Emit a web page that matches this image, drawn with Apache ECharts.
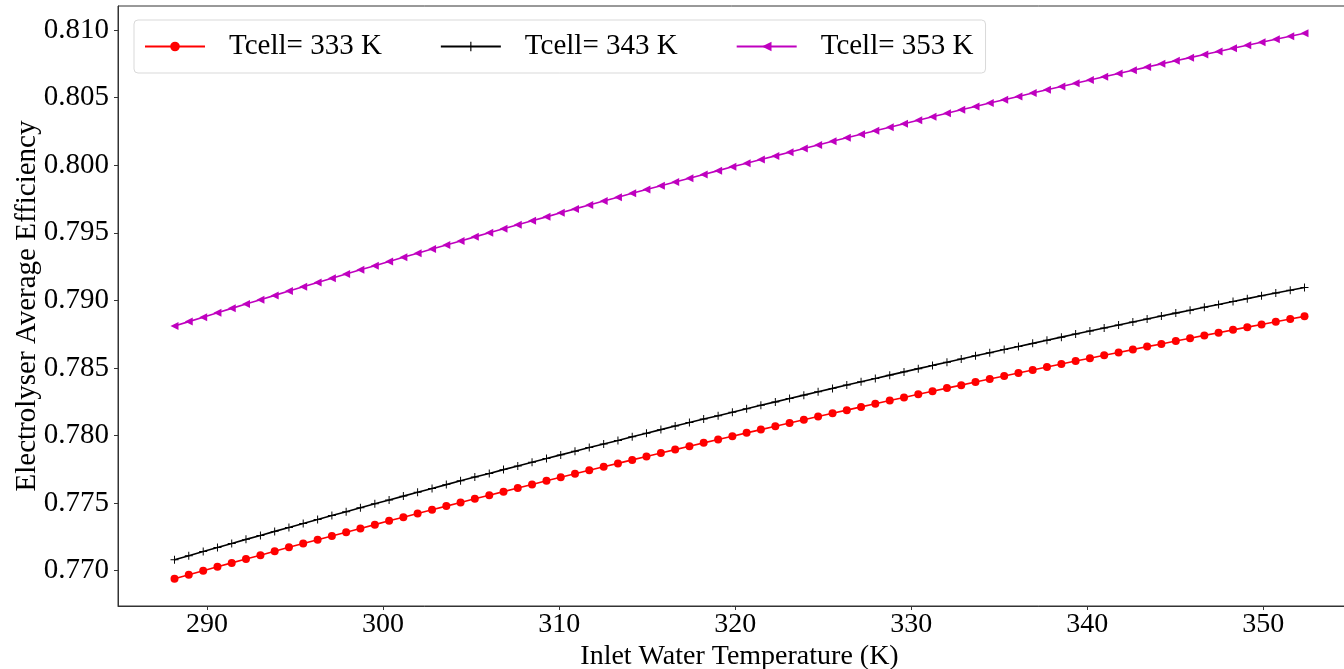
<!DOCTYPE html>
<html>
<head>
<meta charset="utf-8">
<script src="https://cdn.jsdelivr.net/npm/echarts@6/dist/echarts.min.js"></script>
<style>html,body{margin:0;padding:0;background:#fff;}#c{width:1344px;height:669px;}</style>
</head>
<body>
<div id="c"></div>
<script>
const inletTemp = [288.15,288.96,289.78,290.59,291.40,292.21,293.03,293.84,294.65,295.46,296.28,297.09,297.90,298.71,299.53,300.34,301.15,301.96,302.78,303.59,304.40,305.21,306.03,306.84,307.65,308.46,309.28,310.09,310.90,311.71,312.53,313.34,314.15,314.96,315.78,316.59,317.40,318.21,319.03,319.84,320.65,321.46,322.28,323.09,323.90,324.71,325.53,326.34,327.15,327.96,328.78,329.59,330.40,331.21,332.03,332.84,333.65,334.46,335.28,336.09,336.90,337.71,338.53,339.34,340.15,340.96,341.78,342.59,343.40,344.21,345.03,345.84,346.65,347.46,348.28,349.09,349.90,350.71,351.53,352.34];
const eff333 = [0.76941,0.76970,0.77000,0.77029,0.77058,0.77087,0.77115,0.77144,0.77173,0.77201,0.77229,0.77257,0.77285,0.77313,0.77341,0.77369,0.77396,0.77424,0.77451,0.77478,0.77505,0.77532,0.77559,0.77585,0.77612,0.77638,0.77665,0.77691,0.77717,0.77743,0.77769,0.77794,0.77820,0.77845,0.77871,0.77896,0.77921,0.77946,0.77971,0.77995,0.78020,0.78044,0.78069,0.78093,0.78117,0.78141,0.78165,0.78188,0.78212,0.78235,0.78259,0.78282,0.78305,0.78328,0.78351,0.78373,0.78396,0.78419,0.78441,0.78463,0.78485,0.78507,0.78529,0.78551,0.78572,0.78594,0.78615,0.78636,0.78658,0.78678,0.78699,0.78720,0.78741,0.78761,0.78782,0.78802,0.78822,0.78842,0.78862,0.78882];
const eff343 = [0.77081,0.77111,0.77142,0.77172,0.77202,0.77232,0.77261,0.77291,0.77320,0.77350,0.77379,0.77408,0.77437,0.77466,0.77495,0.77523,0.77552,0.77580,0.77609,0.77637,0.77665,0.77693,0.77720,0.77748,0.77775,0.77803,0.77830,0.77857,0.77884,0.77911,0.77938,0.77964,0.77991,0.78017,0.78044,0.78070,0.78096,0.78122,0.78147,0.78173,0.78198,0.78224,0.78249,0.78274,0.78299,0.78324,0.78349,0.78374,0.78398,0.78422,0.78447,0.78471,0.78495,0.78519,0.78542,0.78566,0.78590,0.78613,0.78636,0.78659,0.78682,0.78705,0.78728,0.78751,0.78773,0.78796,0.78818,0.78840,0.78862,0.78884,0.78906,0.78927,0.78949,0.78970,0.78992,0.79013,0.79034,0.79055,0.79075,0.79096];
const eff353 = [0.78810,0.78843,0.78876,0.78908,0.78941,0.78973,0.79005,0.79037,0.79069,0.79101,0.79132,0.79164,0.79195,0.79226,0.79257,0.79288,0.79319,0.79349,0.79380,0.79410,0.79440,0.79470,0.79500,0.79530,0.79560,0.79589,0.79618,0.79648,0.79677,0.79706,0.79735,0.79763,0.79792,0.79820,0.79848,0.79876,0.79904,0.79932,0.79960,0.79988,0.80015,0.80042,0.80069,0.80096,0.80123,0.80150,0.80177,0.80203,0.80229,0.80255,0.80281,0.80307,0.80333,0.80359,0.80384,0.80410,0.80435,0.80460,0.80485,0.80509,0.80534,0.80559,0.80583,0.80607,0.80631,0.80655,0.80679,0.80703,0.80726,0.80750,0.80773,0.80796,0.80819,0.80842,0.80865,0.80887,0.80910,0.80932,0.80954,0.80976];
const xTicks = [290,300,310,320,330,340,350];
const yTicks = [0.770,0.775,0.780,0.785,0.790,0.795,0.800,0.805,0.810];
const seriesNames = ['Tcell= 333 K','Tcell= 343 K','Tcell= 353 K'];

const FONT = 'Liberation Serif';
const pairs = arr => inletTemp.map((x, i) => [x, arr[i]]);
const plusPath = 'path://M4.4,0 H5.6 V4.4 H10 V5.6 H5.6 V10 H4.4 V5.6 H0 V4.4 H4.4 Z';

const chart = echarts.init(document.getElementById('c'), null, {renderer: 'canvas'});
chart.setOption({
  animation: false,
  backgroundColor: '#fff',
  grid: {left: 118, top: 6, width: 1243, height: 600, outerBoundsMode: 'none', containLabel: false,
         show: true, borderColor: '#333', borderWidth: 1, backgroundColor: 'transparent'},
  legend: {
    left: 134, top: 20,
    padding: [12, 12, 12, 10],
    itemGap: 58, itemWidth: 60, itemHeight: 12,
    borderColor: '#d9d9d9', borderWidth: 1, borderRadius: 4,
    backgroundColor: 'rgba(255,255,255,0.8)',
    textStyle: {fontFamily: FONT, fontSize: 29, color: '#000', padding: [0, 0, 0, 19]},
    data: seriesNames
  },
  xAxis: {
    type: 'value', min: 284.94, max: 355.55,
    name: 'Inlet Water Temperature (K)', nameLocation: 'middle', nameGap: 37, nameMoveOverlap: false,
    nameTextStyle: {fontFamily: FONT, fontSize: 28, color: '#000'},
    axisLine: {show: true, lineStyle: {color: '#333', width: 1}},
    axisTick: {show: true, inside: false, length: 4, lineStyle: {color: '#333'}, customValues: xTicks},
    axisLabel: {fontFamily: FONT, fontSize: 28, color: '#000', margin: 5, customValues: xTicks, formatter: v => String(v)},
    splitLine: {show: false}
  },
  yAxis: {
    type: 'value', min: 0.76739, max: 0.81178,
    name: 'Electrolyser Average Efficiency', nameLocation: 'middle', nameGap: 76, nameRotate: 90, nameMoveOverlap: false,
    nameTextStyle: {fontFamily: FONT, fontSize: 29, color: '#000'},
    axisLine: {show: true, lineStyle: {color: '#333', width: 1}},
    axisTick: {show: true, inside: false, length: 4, lineStyle: {color: '#333'}, customValues: yTicks},
    axisLabel: {fontFamily: FONT, fontSize: 29, color: '#000', margin: 9, customValues: yTicks, formatter: v => v.toFixed(3)},
    splitLine: {show: false}
  },
  series: [
    {name: seriesNames[0], type: 'line', data: pairs(eff333), symbol: 'circle', symbolSize: 8, showAllSymbol: true,
     lineStyle: {color: '#ff0000', width: 1.6}, itemStyle: {color: '#ff0000'}},
    {name: seriesNames[1], type: 'line', data: pairs(eff343), symbol: plusPath, symbolSize: 8, showAllSymbol: true,
     lineStyle: {color: '#000000', width: 1.6}, itemStyle: {color: '#000000'}},
    {name: seriesNames[2], type: 'line', data: pairs(eff353), symbol: 'triangle', symbolRotate: 90, symbolSize: 8, showAllSymbol: true,
     lineStyle: {color: '#bf00bf', width: 1.6}, itemStyle: {color: '#bf00bf'}}
  ]
});
</script>
</body>
</html>
